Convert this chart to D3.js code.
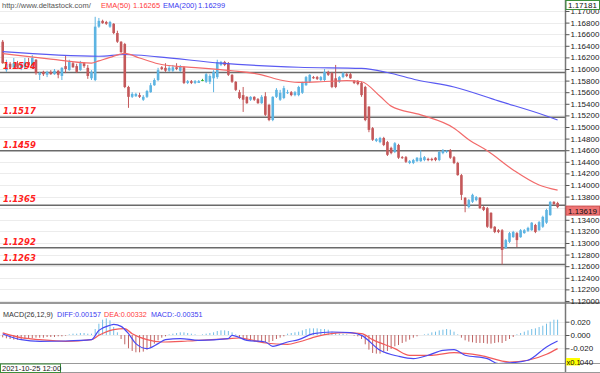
<!DOCTYPE html>
<html>
<head>
<meta charset="utf-8">
<script src="https://cdn.jsdelivr.net/npm/d3@7"></script>
<style>
  body { margin: 0; background: #fff; }
  svg { display: block; font-family: "Liberation Sans", Arial, sans-serif; }
</style>
</head>
<body>
<div id="chart"></div>
<script>
// EURUSD H4 candles, first bar 2021-10-25 12:00
const opens = [
  1.1647, 1.1598, 1.1609, 1.1603, 1.1610, 1.1602, 1.1603, 1.1612, 1.1602, 1.1616,
  1.1590, 1.1595, 1.1590, 1.1595, 1.1591, 1.1597, 1.1588, 1.1605, 1.1598, 1.1610,
  1.1605, 1.1598, 1.1610, 1.1602, 1.1584, 1.1581, 1.1673, 1.1683, 1.1681, 1.1673,
  1.1678, 1.1662, 1.1647, 1.1643, 1.1569, 1.1552, 1.1553, 1.1555, 1.1547, 1.1552,
  1.1560, 1.1572, 1.1581, 1.1603, 1.1602, 1.1597, 1.1597, 1.1603, 1.1597, 1.1603,
  1.1576, 1.1579, 1.1576, 1.1576, 1.1581, 1.1578, 1.1578, 1.1584, 1.1586, 1.1607,
  1.1612, 1.1610, 1.1590, 1.1578, 1.1560, 1.1555, 1.1552, 1.1547, 1.1552, 1.1548,
  1.1541, 1.1553, 1.1538, 1.1512, 1.1552, 1.1547, 1.1550, 1.1559, 1.1560, 1.1555,
  1.1555, 1.1559, 1.1572, 1.1578, 1.1586, 1.1586, 1.1581, 1.1581, 1.1595, 1.1593,
  1.1584, 1.1578, 1.1586, 1.1591, 1.1591, 1.1579, 1.1579, 1.1576, 1.1569, 1.1535,
  1.1498, 1.1476, 1.1474, 1.1481, 1.1474, 1.1464, 1.1457, 1.1469, 1.1448, 1.1448,
  1.1438, 1.1438, 1.1441, 1.1441, 1.1443, 1.1445, 1.1445, 1.1447, 1.1443, 1.1455,
  1.1457, 1.1460, 1.1448, 1.1438, 1.1417, 1.1378, 1.1362, 1.1371, 1.1374, 1.1378,
  1.1362, 1.1360, 1.1352, 1.1328, 1.1322, 1.1322, 1.1291, 1.1302, 1.1310, 1.1317,
  1.1310, 1.1317, 1.1321, 1.1322, 1.1331, 1.1322, 1.1328, 1.1335, 1.1348, 1.1371,
  1.1369
];
const highs = [
  1.1650, 1.1616, 1.1612, 1.1619, 1.1614, 1.1610, 1.1619, 1.1619, 1.1624, 1.1617,
  1.1595, 1.1597, 1.1597, 1.1598, 1.1600, 1.1598, 1.1603, 1.1624, 1.1616, 1.1612,
  1.1609, 1.1614, 1.1612, 1.1607, 1.1598, 1.1690, 1.1688, 1.1685, 1.1683, 1.1683,
  1.1679, 1.1666, 1.1648, 1.1645, 1.1571, 1.1560, 1.1559, 1.1559, 1.1555, 1.1564,
  1.1576, 1.1584, 1.1602, 1.1605, 1.1610, 1.1605, 1.1607, 1.1610, 1.1607, 1.1605,
  1.1581, 1.1581, 1.1581, 1.1581, 1.1583, 1.1593, 1.1591, 1.1598, 1.1616, 1.1614,
  1.1614, 1.1612, 1.1591, 1.1579, 1.1564, 1.1569, 1.1553, 1.1553, 1.1553, 1.1550,
  1.1555, 1.1560, 1.1540, 1.1553, 1.1567, 1.1564, 1.1571, 1.1564, 1.1562, 1.1562,
  1.1571, 1.1578, 1.1588, 1.1591, 1.1588, 1.1588, 1.1588, 1.1600, 1.1597, 1.1595,
  1.1607, 1.1588, 1.1595, 1.1593, 1.1593, 1.1581, 1.1581, 1.1578, 1.1571, 1.1536,
  1.1500, 1.1481, 1.1483, 1.1483, 1.1476, 1.1466, 1.1474, 1.1471, 1.1450, 1.1450,
  1.1443, 1.1445, 1.1448, 1.1460, 1.1450, 1.1447, 1.1447, 1.1448, 1.1459, 1.1462,
  1.1460, 1.1462, 1.1450, 1.1440, 1.1419, 1.1379, 1.1376, 1.1385, 1.1381, 1.1379,
  1.1364, 1.1362, 1.1353, 1.1329, 1.1324, 1.1324, 1.1307, 1.1319, 1.1321, 1.1319,
  1.1324, 1.1324, 1.1328, 1.1336, 1.1333, 1.1338, 1.1347, 1.1359, 1.1372, 1.1372,
  1.1371
];
const lows = [
  1.1609, 1.1595, 1.1600, 1.1602, 1.1600, 1.1598, 1.1600, 1.1603, 1.1600, 1.1590,
  1.1581, 1.1588, 1.1586, 1.1590, 1.1590, 1.1584, 1.1581, 1.1593, 1.1597, 1.1602,
  1.1593, 1.1597, 1.1602, 1.1583, 1.1581, 1.1579, 1.1671, 1.1678, 1.1676, 1.1671,
  1.1660, 1.1645, 1.1628, 1.1567, 1.1533, 1.1550, 1.1552, 1.1550, 1.1545, 1.1550,
  1.1559, 1.1571, 1.1579, 1.1598, 1.1595, 1.1595, 1.1595, 1.1598, 1.1595, 1.1574,
  1.1574, 1.1574, 1.1574, 1.1576, 1.1579, 1.1576, 1.1574, 1.1560, 1.1583, 1.1605,
  1.1605, 1.1588, 1.1576, 1.1562, 1.1548, 1.1526, 1.1540, 1.1545, 1.1545, 1.1540,
  1.1540, 1.1519, 1.1510, 1.1510, 1.1550, 1.1545, 1.1548, 1.1557, 1.1553, 1.1553,
  1.1553, 1.1557, 1.1571, 1.1576, 1.1583, 1.1581, 1.1579, 1.1579, 1.1588, 1.1567,
  1.1567, 1.1576, 1.1584, 1.1586, 1.1583, 1.1574, 1.1572, 1.1552, 1.1510, 1.1491,
  1.1476, 1.1474, 1.1472, 1.1467, 1.1450, 1.1453, 1.1455, 1.1445, 1.1445, 1.1438,
  1.1436, 1.1436, 1.1440, 1.1440, 1.1441, 1.1441, 1.1441, 1.1441, 1.1441, 1.1453,
  1.1455, 1.1445, 1.1436, 1.1416, 1.1374, 1.1353, 1.1360, 1.1369, 1.1372, 1.1359,
  1.1355, 1.1326, 1.1324, 1.1317, 1.1317, 1.1263, 1.1290, 1.1300, 1.1309, 1.1293,
  1.1309, 1.1316, 1.1319, 1.1321, 1.1317, 1.1321, 1.1326, 1.1333, 1.1347, 1.1366,
  1.1360
];
const closes = [
  1.1610, 1.1609, 1.1603, 1.1610, 1.1603, 1.1607, 1.1612, 1.1607, 1.1619, 1.1593,
  1.1593, 1.1591, 1.1595, 1.1591, 1.1597, 1.1590, 1.1602, 1.1600, 1.1612, 1.1603,
  1.1595, 1.1610, 1.1605, 1.1588, 1.1595, 1.1673, 1.1683, 1.1679, 1.1678, 1.1681,
  1.1662, 1.1647, 1.1629, 1.1569, 1.1552, 1.1557, 1.1557, 1.1552, 1.1552, 1.1562,
  1.1572, 1.1581, 1.1598, 1.1600, 1.1597, 1.1602, 1.1603, 1.1600, 1.1605, 1.1576,
  1.1579, 1.1576, 1.1579, 1.1579, 1.1581, 1.1591, 1.1588, 1.1595, 1.1612, 1.1612,
  1.1607, 1.1590, 1.1578, 1.1564, 1.1550, 1.1547, 1.1541, 1.1552, 1.1547, 1.1541,
  1.1552, 1.1521, 1.1512, 1.1552, 1.1564, 1.1559, 1.1567, 1.1560, 1.1555, 1.1560,
  1.1569, 1.1576, 1.1586, 1.1590, 1.1584, 1.1583, 1.1586, 1.1595, 1.1590, 1.1569,
  1.1569, 1.1586, 1.1593, 1.1588, 1.1584, 1.1576, 1.1574, 1.1555, 1.1512, 1.1495,
  1.1478, 1.1479, 1.1481, 1.1469, 1.1452, 1.1455, 1.1472, 1.1447, 1.1447, 1.1440,
  1.1441, 1.1443, 1.1447, 1.1447, 1.1448, 1.1443, 1.1443, 1.1443, 1.1457, 1.1460,
  1.1459, 1.1447, 1.1438, 1.1417, 1.1383, 1.1366, 1.1374, 1.1383, 1.1379, 1.1360,
  1.1357, 1.1328, 1.1326, 1.1319, 1.1319, 1.1288, 1.1305, 1.1317, 1.1319, 1.1305,
  1.1322, 1.1322, 1.1326, 1.1335, 1.1319, 1.1336, 1.1345, 1.1357, 1.1371, 1.1367,
  1.13619
];

// moving averages at some bars
const ema50Idx = [0, 13, 24, 26, 29, 33, 37, 42, 48, 53, 62, 70, 75, 80, 86, 93, 97, 102, 105, 113, 122, 126, 131, 138, 145, 150];
const ema50 = [1.16265, 1.1617, 1.1610, 1.1614, 1.1620, 1.1627, 1.1619, 1.1609, 1.1604, 1.1602, 1.1597, 1.1590, 1.1581, 1.1577, 1.1578, 1.1580, 1.1578, 1.1553, 1.1536, 1.1521, 1.1498, 1.1478, 1.1459, 1.1426, 1.1400, 1.1391];
const ema200Idx = [0, 26, 33, 42, 59, 80, 97, 104, 112, 122, 134, 147, 150];
const ema200 = [1.16299, 1.1622, 1.1625, 1.1621, 1.1610, 1.1603, 1.1601, 1.1594, 1.1581, 1.1569, 1.1545, 1.1519, 1.1512];

// support / resistance levels
const levels = [1.1594, 1.1517, 1.1459, 1.1365, 1.1292, 1.1263];

const priceTicks = [1.170, 1.168, 1.166, 1.164, 1.162, 1.160, 1.158, 1.156, 1.154, 1.152,
  1.150, 1.148, 1.146, 1.144, 1.142, 1.140, 1.138, 1.136, 1.134, 1.132, 1.130, 1.128,
  1.126, 1.124, 1.122, 1.120];

// MACD(26,12,9)
const macdHist = [
  -0.0035, -0.005, -0.006, -0.007, -0.007, -0.006, -0.006, -0.005, -0.005, -0.004,
  -0.004, -0.004, -0.003, -0.003, -0.003, -0.002, -0.002, -0.001, 0.001, 0.002,
  0.002, 0.003, 0.003, 0.002, 0.002, 0.009, 0.017, 0.023, 0.025, 0.022,
  0.012, 0.004, -0.006, -0.014, -0.020, -0.024, -0.026, -0.026, -0.025, -0.022,
  -0.018, -0.013, -0.008, -0.004, -0.002, 0.001, 0.002, 0.003, 0.004, 0.004,
  0.003, 0.002, 0.001, 0.000, 0.001, 0.002, 0.003, 0.004, 0.006, 0.007,
  0.007, 0.006, 0.004, 0.001, -0.003, -0.006, -0.008, -0.009, -0.010, -0.010,
  -0.010, -0.011, -0.011, -0.009, -0.006, -0.004, -0.002, 0.002, 0.003, 0.004,
  0.005, 0.007, 0.009, 0.010, 0.010, 0.010, 0.009, 0.009, 0.008, 0.005,
  0.003, 0.002, 0.002, 0.001, 0.000, -0.001, -0.002, -0.006, -0.014, -0.022,
  -0.027, -0.028, -0.028, -0.026, -0.024, -0.021, -0.017, -0.015, -0.012, -0.010,
  -0.007, -0.004, -0.002, 0.000, 0.001, 0.002, 0.004, 0.005, 0.007, 0.008,
  0.009, 0.008, 0.005, 0.001, -0.004, -0.008, -0.010, -0.011, -0.012, -0.012,
  -0.012, -0.013, -0.013, -0.012, -0.011, -0.012, -0.009, -0.006, -0.003, 0.001,
  0.003, 0.005, 0.007, 0.009, 0.010, 0.012, 0.014, 0.017, 0.020, 0.023,
  0.023
];
const diffIdx = [0, 5, 10, 17, 24, 26, 29, 30, 32, 34, 36, 39, 42, 44, 48, 53, 61, 62, 66, 71, 73, 77, 80, 84, 89, 94, 97, 102, 107, 111, 115, 119, 122, 125, 131, 134, 137, 142, 147, 150];
const diffVals = [0.0016, -0.007, -0.0095, -0.009, -0.007, 0.007, 0.0146, 0.016, 0.013, 0.002, -0.013, -0.0205, -0.013, -0.007, -0.0054, -0.008, -0.0054, -0.0005, -0.008, -0.0105, -0.017, -0.0105, -0.007, 0.002, 0.0045, 0.0036, -0.0005, -0.023, -0.032, -0.0355, -0.0305, -0.023, -0.022, -0.0305, -0.0355, -0.043, -0.042, -0.038, -0.018, -0.009];
const deaIdx = [0, 5, 10, 17, 24, 26, 30, 33, 35, 39, 43, 50, 61, 64, 71, 77, 80, 85, 92, 97, 100, 106, 110, 116, 122, 129, 137, 142, 147, 150];
const deaVals = [0.0033, -0.004, -0.007, -0.0095, -0.007, -0.0005, 0.008, 0.0096, 0.002, -0.007, -0.0105, -0.009, -0.0054, -0.0045, -0.012, -0.014, -0.0105, -0.002, 0.0036, 0.002, -0.007, -0.0205, -0.0305, -0.0305, -0.0265, -0.0305, -0.0406, -0.038, -0.029, -0.0205];
const macdTicks = [0.02, 0, -0.02, -0.04];

const W = 600, H = 373;
const AXIS_X = 565;
const MAIN_BOTTOM = 303, MACD_BOTTOM = 363;

const BLUE = "#5db4e2", RED = "#c4585a", GREEN = "#2fb52f";

let svg = d3.select("#chart").append("svg")
  .attr("width", W).attr("height", H);

let x = d3.scaleLinear().domain([-0.73, closes.length + 1]).range([0, AXIS_X]);
let y = d3.scaleLinear().domain([1.11948, 1.17181]).range([304, 0.5]);
let ym = d3.scaleLinear().domain([-0.04, 0.02]).range([361.6, 321.7]);

let defs = svg.append("defs");
defs.append("clipPath").attr("id", "clip-main")
  .append("rect").attr("x", 0).attr("y", 0).attr("width", AXIS_X).attr("height", MAIN_BOTTOM);
defs.append("clipPath").attr("id", "clip-macd")
  .append("rect").attr("x", 0).attr("y", MAIN_BOTTOM).attr("width", AXIS_X)
  .attr("height", MACD_BOTTOM - MAIN_BOTTOM);

// ---- main panel ----
let main = svg.append("g").attr("clip-path", "url(#clip-main)");

main.selectAll("line.grid").data(priceTicks).enter()
  .append("line").attr("class", "grid")
  .attr("x1", 0).attr("x2", AXIS_X)
  .attr("y1", d => Math.round(y(d)) + 0.5).attr("y2", d => Math.round(y(d)) + 0.5)
  .attr("stroke", "#ececec");

main.selectAll("line.level").data(levels).enter()
  .append("line").attr("class", "level")
  .attr("x1", 0).attr("x2", AXIS_X)
  .attr("y1", d => y(d)).attr("y2", d => y(d))
  .attr("stroke", "#6a6a6a").attr("stroke-width", 1.5);

let candles = closes.map((c, i) => ({i: i, o: opens[i], h: highs[i], l: lows[i], c: c}));
function candleColor(d) {
  if (d.c > d.o) return BLUE;
  if (d.c < d.o) return RED;
  return GREEN;
}

let bars = main.selectAll("g.candle").data(candles).enter()
  .append("g").attr("class", "candle");

bars.append("line")
  .attr("x1", d => x(d.i)).attr("x2", d => x(d.i))
  .attr("y1", d => y(d.h)).attr("y2", d => y(d.l))
  .attr("stroke", candleColor).attr("stroke-width", 1);

bars.append("rect")
  .attr("x", d => x(d.i) - 1.3).attr("width", 2.6)
  .attr("y", d => y(Math.max(d.o, d.c)))
  .attr("height", d => Math.max(1, Math.abs(y(d.o) - y(d.c))))
  .attr("fill", candleColor);

let emaLine = d3.line().curve(d3.curveMonotoneX)
  .x(d => x(d[0])).y(d => y(d[1]));

main.append("path").datum(d3.zip(ema200Idx, ema200))
  .attr("d", emaLine).attr("fill", "none")
  .attr("stroke", "#5a5af2").attr("stroke-width", 1.2);
main.append("path").datum(d3.zip(ema50Idx, ema50))
  .attr("d", emaLine).attr("fill", "none")
  .attr("stroke", "#f26a6a").attr("stroke-width", 1.2);

svg.selectAll("text.level").data(levels).enter()
  .append("text").attr("class", "level")
  .attr("x", 3).attr("y", d => y(d) - 3)
  .attr("font-family", "'DejaVu Sans', sans-serif")
  .attr("font-weight", "bold").attr("font-style", "italic")
  .attr("font-size", 8.5).attr("fill", "#ff2020")
  .text(d => d.toFixed(4));

// header
let header = svg.append("text").attr("x", 2).attr("y", 8).attr("font-size", 7.5);
header.append("tspan").attr("fill", "#555").text("http://www.deltastock.com/");
header.append("tspan").attr("x", 101).attr("fill", "#ff3b3b").text("EMA(50)");
header.append("tspan").attr("x", 133).attr("fill", "#ff3b3b").text("1.16265");
header.append("tspan").attr("x", 163).attr("fill", "#3a3af0").text("EMA(200)");
header.append("tspan").attr("x", 198).attr("fill", "#3a3af0").text("1.16299");

// ---- macd panel ----
let macd = svg.append("g").attr("clip-path", "url(#clip-macd)");

macd.selectAll("line.grid").data(macdTicks.slice(0, 3)).enter()
  .append("line").attr("class", "grid")
  .attr("x1", 0).attr("x2", AXIS_X)
  .attr("y1", d => Math.round(ym(d)) + 0.5).attr("y2", d => Math.round(ym(d)) + 0.5)
  .attr("stroke", "#ececec");

macd.selectAll("line.hist").data(macdHist).enter()
  .append("line").attr("class", "hist")
  .attr("x1", (d, i) => x(i)).attr("x2", (d, i) => x(i))
  .attr("y1", ym(0)).attr("y2", d => ym(d))
  .attr("stroke", d => d >= 0 ? "#74bfe6" : "#c06464").attr("stroke-width", 1);

let macdLine = d3.line().curve(d3.curveMonotoneX)
  .x(d => x(d[0])).y(d => ym(d[1]));
macd.append("path").datum(d3.zip(deaIdx, deaVals))
  .attr("d", macdLine).attr("fill", "none")
  .attr("stroke", "#f25a5a").attr("stroke-width", 1.2);
macd.append("path").datum(d3.zip(diffIdx, diffVals))
  .attr("d", macdLine).attr("fill", "none")
  .attr("stroke", "#4a4af2").attr("stroke-width", 1.2);

let mtitle = svg.append("text").attr("x", 3).attr("y", 317).attr("font-size", 7.2);
mtitle.append("tspan").attr("fill", "#333").text("MACD(26,12,9)");
mtitle.append("tspan").attr("x", 57).attr("fill", "#3a3af0").text("DIFF:0.00157");
mtitle.append("tspan").attr("x", 104).attr("fill", "#ff3b3b").text("DEA:0.00332");
mtitle.append("tspan").attr("x", 151).attr("fill", "#3a3af0").text("MACD:-0.00351");

// ---- frame and axes ----
svg.append("line").attr("x1", 0).attr("x2", W)
  .attr("y1", MAIN_BOTTOM).attr("y2", MAIN_BOTTOM)
  .attr("stroke", "#777").attr("stroke-width", 1.5);
svg.append("line").attr("x1", 0).attr("x2", W)
  .attr("y1", MACD_BOTTOM + 0.5).attr("y2", MACD_BOTTOM + 0.5)
  .attr("stroke", "#999");
svg.append("line").attr("x1", AXIS_X + 0.5).attr("x2", AXIS_X + 0.5)
  .attr("y1", 0).attr("y2", H)
  .attr("stroke", "#777").attr("stroke-width", 1.5);

let yAxis = svg.append("g").attr("transform", `translate(${AXIS_X + 0.5},0)`)
  .call(d3.axisRight(y).tickValues(priceTicks).tickSize(4).tickPadding(1)
    .tickFormat(d => d.toFixed(5)));
let mAxis = svg.append("g").attr("transform", `translate(${AXIS_X + 0.5},0)`)
  .call(d3.axisRight(ym).tickValues(macdTicks).tickSize(4).tickPadding(1)
    .tickFormat(d => d3.format(".3f")(d).replace("−", "-")));
[yAxis, mAxis].forEach(function(a) {
  a.select(".domain").remove();
  a.selectAll("line").attr("stroke", "#555");
  a.selectAll("text").attr("font-size", 8).attr("fill", "#222")
    .attr("font-family", "'Liberation Sans', Arial, sans-serif");
});

// price boxes on the axis
function axisBox(top, label, fill, stroke) {
  svg.append("rect").attr("x", AXIS_X + 1).attr("y", top)
    .attr("width", W - AXIS_X - 1.5).attr("height", 9)
    .attr("fill", fill).attr("stroke", stroke);
  svg.append("text").attr("x", AXIS_X + 3).attr("y", top + 7.5)
    .attr("font-size", 8).attr("fill", "#111").text(label);
}
axisBox(0.5, "1.17181", "#fff", "#3b8f3b");
axisBox(y(closes[closes.length - 1]) - 1, closes[closes.length - 1].toFixed(5), "#ee7474", "#d05050");

// scale multiplier badge
svg.append("rect").attr("x", 566).attr("y", 358).attr("width", 14).attr("height", 7.5)
  .attr("fill", "#ffff00");
svg.append("text").attr("x", 566.5).attr("y", 364.5).attr("font-size", 7.5)
  .attr("fill", "#111").text("x0.1");

// crosshair time label
svg.append("rect").attr("x", 0.5).attr("y", 364).attr("width", 60).attr("height", 8.5)
  .attr("fill", "#fff").attr("stroke", "#3b8f3b");
svg.append("text").attr("x", 2).attr("y", 371.3).attr("font-size", 7.5)
  .attr("fill", "#222").text("2021-10-25 12:00");
svg.append("line").attr("x1", 61).attr("x2", W).attr("y1", 372.5).attr("y2", 372.5)
  .attr("stroke", "#999");
</script>
</body>
</html>
